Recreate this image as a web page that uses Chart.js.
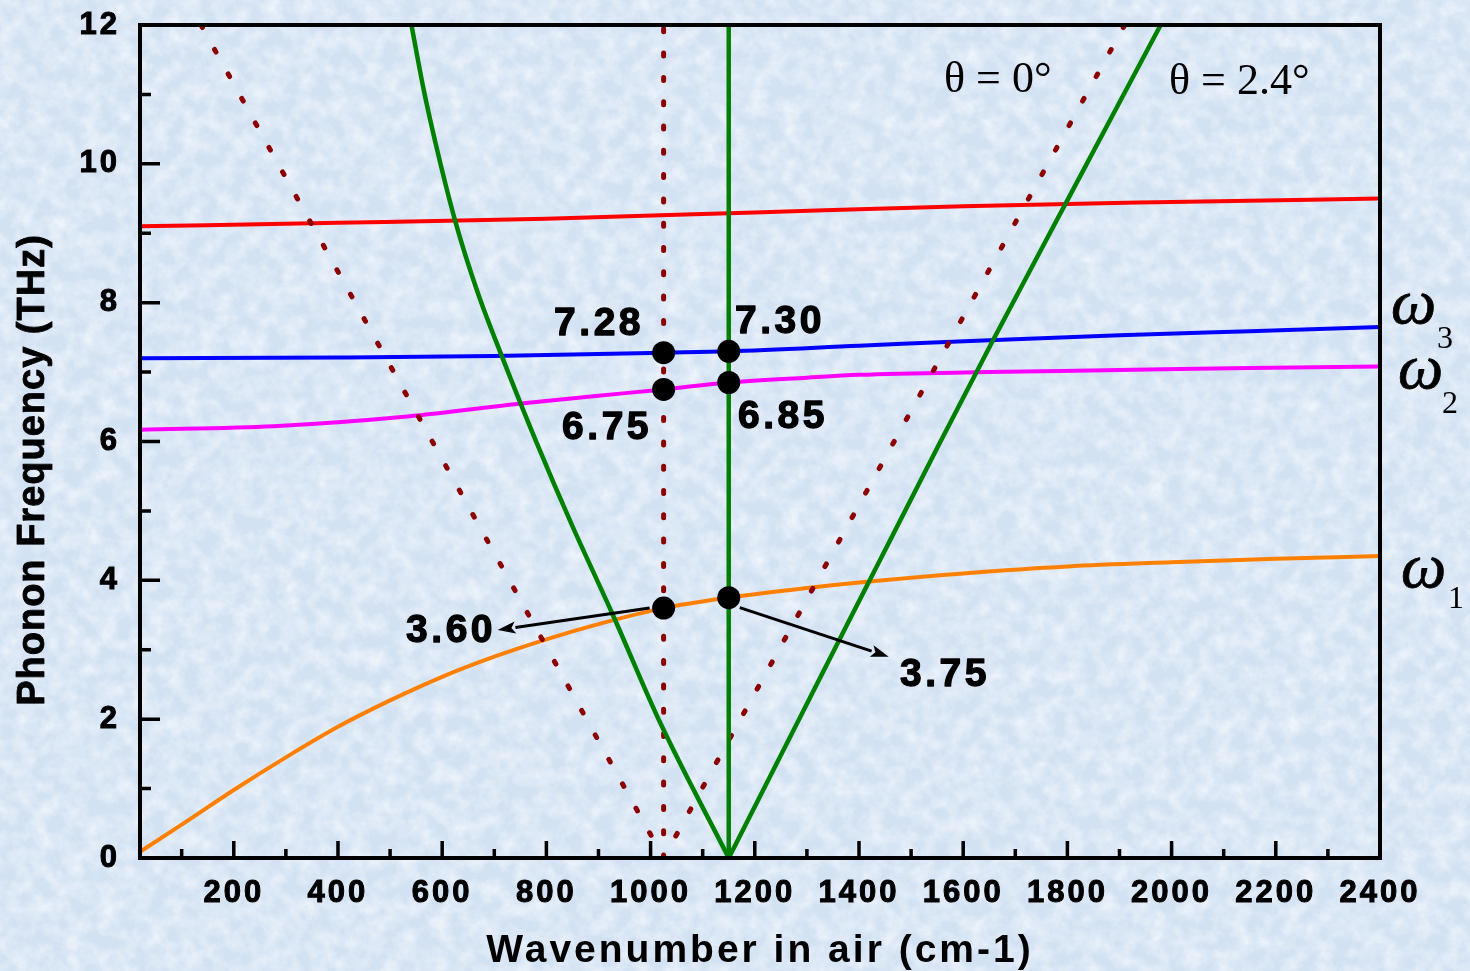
<!DOCTYPE html>
<html>
<head>
<meta charset="utf-8">
<title>Phonon frequency vs wavenumber in air</title>
<script src="https://cdn.jsdelivr.net/npm/chart.js@4.4.1/dist/chart.umd.min.js"></script>
<style>
  html, body { margin: 0; padding: 0; }
  body { width: 1470px; height: 971px; overflow: hidden; background-color: #d3e2f3; }
  #wrap { position: relative; width: 1470px; height: 971px; }
</style>
</head>
<body>
<div id="wrap"><canvas id="chart"></canvas></div>
<script>
// ---- data (wavenumber in air, cm-1 / phonon frequency, THz) ----
const omega1X = [20, 100, 200, 300, 400, 500, 600, 700, 800, 900, 1025, 1150, 1300, 1415, 1600, 1800, 2000, 2200, 2400];
const omega1Y = [0.09, 0.48, 0.98, 1.45, 1.89, 2.27, 2.61, 2.90, 3.15, 3.37, 3.60, 3.75, 3.89, 3.98, 4.10, 4.20, 4.26, 4.31, 4.35];

const omega2X = [20, 276, 533, 756, 900, 1025, 1150, 1300, 1400, 1650, 1900, 2150, 2400];
const omega2Y = [6.17, 6.22, 6.36, 6.55, 6.66, 6.75, 6.85, 6.92, 6.96, 7.00, 7.03, 7.06, 7.08];

const omega3X = [20, 400, 700, 1025, 1150, 1400, 1650, 1900, 2150, 2400];
const omega3Y = [7.20, 7.21, 7.23, 7.28, 7.30, 7.38, 7.46, 7.53, 7.59, 7.65];

const upperX = [20, 400, 800, 1200, 1600, 2000, 2400];
const upperY = [9.10, 9.15, 9.21, 9.30, 9.39, 9.45, 9.50];

// theta = 2.4 deg phase-matching lines
const tiltLeftX = [541, 565, 592, 626, 668, 715, 782, 850, 926, 1019, 1150];
const tiltLeftY = [12, 11.05, 10.15, 9.15, 8.15, 7.22, 5.97, 4.78, 3.53, 1.94, 0];
const tiltRightX = [1150, 1358, 1553, 1656, 1796, 1979];
const tiltRightY = [0, 3.08, 5.95, 7.44, 9.42, 12];
const tiltAxisX = [1150, 1150];
const tiltAxisY = [0, 12];

// theta = 0 deg phase-matching lines
const flatLeftX = [137, 1025];
const flatLeftY = [12, 0];
const flatAxisX = [1025, 1025];
const flatAxisY = [0, 12];
const flatRightX = [1910, 1025];
const flatRightY = [12, 0];

// crossing points
const markX = [1025, 1150, 1025, 1150, 1025, 1150];
const markY = [7.28, 7.30, 6.75, 6.85, 3.60, 3.75];

// axis ticks
const xTickValues = [200, 400, 600, 800, 1000, 1200, 1400, 1600, 1800, 2000, 2200, 2400];
const xMinorValues = [100, 300, 500, 700, 900, 1100, 1300, 1500, 1700, 1900, 2100, 2300];
const yTickValues = [0, 2, 4, 6, 8, 10, 12];
const yMinorValues = [1, 3, 5, 7, 9, 11];

// ---- mottled paper background ----
(function () {
  const svg = "<svg xmlns='http://www.w3.org/2000/svg' width='1470' height='971'>" +
    "<filter id='t' x='0' y='0' width='100%' height='100%'>" +
    "<feTurbulence type='fractalNoise' baseFrequency='0.06' numOctaves='4' seed='7'/>" +
    "<feColorMatrix type='matrix' values='0 0 0 0 1  0 0 0 0 1  0 0 0 0 1  1.1 0 0 0 -0.38'/>" +
    "</filter><rect width='1470' height='971' filter='url(#t)'/></svg>";
  document.body.style.backgroundImage = 'url("data:image/svg+xml,' + encodeURIComponent(svg) + '")';
})();

const pts = (xs, ys) => xs.map((x, i) => ({ x: x, y: ys[i] }));

function curve(label, xs, ys, color, width, order, smooth) {
  return {
    label: label, data: pts(xs, ys), showLine: true, fill: false,
    borderColor: color, borderWidth: width, pointRadius: 0, pointHoverRadius: 0,
    cubicInterpolationMode: smooth ? 'monotone' : 'default', tension: 0, order: order
  };
}
function dotted(label, xs, ys, gap) {
  return {
    label: label, data: pts(xs, ys), showLine: true, fill: false,
    borderColor: '#8b0000', borderWidth: 5, borderCapStyle: 'round',
    borderDash: [3, gap], pointRadius: 0, pointHoverRadius: 0, tension: 0, order: 2
  };
}

const SANS = '"Liberation Sans", Arial, Helvetica, sans-serif';
const SERIF = '"Liberation Serif", "Times New Roman", "DejaVu Serif", serif';

// label placement around the crossing points (pixel offsets, cap-centre)
const valueLabelLayout = [
  { dx: -19.6, dy: -31.6, align: 'right' },
  { dx: 6.3, dy: -32.2, align: 'left' },
  { dx: -11.6, dy: 35.1, align: 'right' },
  { dx: 9.3, dy: 31.5, align: 'left' },
  { dx: -167.6, dy: 19.7, align: 'right' },
  { dx: 171.3, dy: 74.3, align: 'left' }
];
const arrowLayout = [
  { i: 4, from: [-14, 0], to: [-166, 22] },
  { i: 5, from: [11, 10], to: [160, 59] }
];
const branchLabels = [
  { sym: '\u03C9', sub: '3', dx: 11, y: 323, sdx: 57, sy: 348 },
  { sym: '\u03C9', sub: '2', dx: 18, y: 388, sdx: 62, sy: 413 },
  { sym: '\u03C9', sub: '1', dx: 21, y: 587, sdx: 68, sy: 608 }
];
const angleLabels = [
  { text: '\u03B8 = 0\u00B0', x: 944, y: 92 },
  { text: '\u03B8 = 2.4\u00B0', x: 1169, y: 94 }
];

const spacingPlugin = {
  id: 'spacing',
  beforeDraw(chart) { chart.ctx.letterSpacing = '3px'; }
};

const framePlugin = {
  id: 'frame',
  afterDatasetsDraw(chart) {
    const ctx = chart.ctx, a = chart.chartArea;
    const xs = chart.scales.x, ys = chart.scales.y;
    ctx.save();
    ctx.strokeStyle = '#000';
    ctx.lineCap = 'butt';
    ctx.lineWidth = 3.5;
    ctx.beginPath();
    xTickValues.forEach(v => {
      if (v >= xs.max) return;
      const p = xs.getPixelForValue(v);
      ctx.moveTo(p, a.bottom); ctx.lineTo(p, a.bottom - 17);
    });
    xMinorValues.forEach(v => {
      const p = xs.getPixelForValue(v);
      ctx.moveTo(p, a.bottom); ctx.lineTo(p, a.bottom - 9);
    });
    yTickValues.forEach(v => {
      if (v <= ys.min || v >= ys.max) return;
      const p = ys.getPixelForValue(v);
      ctx.moveTo(a.left, p); ctx.lineTo(a.left + 20, p);
    });
    yMinorValues.forEach(v => {
      const p = ys.getPixelForValue(v);
      ctx.moveTo(a.left, p); ctx.lineTo(a.left + 11, p);
    });
    ctx.stroke();
    ctx.lineWidth = 4;
    ctx.strokeRect(a.left, a.top, a.right - a.left, a.bottom - a.top);
    ctx.restore();
  }
};

function arrow(ctx, x1, y1, x2, y2) {
  const ang = Math.atan2(y2 - y1, x2 - x1);
  const len = 18, half = 6;
  const bx = x2 - len * Math.cos(ang), by = y2 - len * Math.sin(ang);
  ctx.beginPath();
  ctx.moveTo(x1, y1); ctx.lineTo(bx, by);
  ctx.stroke();
  ctx.beginPath();
  ctx.moveTo(x2, y2);
  ctx.lineTo(bx + half * Math.sin(ang), by - half * Math.cos(ang));
  ctx.lineTo(bx + 4 * Math.cos(ang), by + 4 * Math.sin(ang));
  ctx.lineTo(bx - half * Math.sin(ang), by + half * Math.cos(ang));
  ctx.closePath();
  ctx.fill();
}

function boldText(ctx, text, x, y, w) {
  ctx.fillText(text, x, y);
  ctx.lineWidth = w;
  ctx.strokeText(text, x, y);
}

const annotationPlugin = {
  id: 'annotations',
  afterDraw(chart) {
    const ctx = chart.ctx, a = chart.chartArea;
    const xs = chart.scales.x, ys = chart.scales.y;
    ctx.save();
    ctx.fillStyle = '#000';
    ctx.strokeStyle = '#000';
    ctx.lineJoin = 'round';

    // arrows from the omega1 crossings
    ctx.lineWidth = 3;
    arrowLayout.forEach(o => {
      const px = xs.getPixelForValue(markX[o.i]), py = ys.getPixelForValue(markY[o.i]);
      arrow(ctx, px + o.from[0], py + o.from[1], px + o.to[0], py + o.to[1]);
    });

    // frequency values at the crossings
    ctx.font = 'bold 39px ' + SANS;
    ctx.letterSpacing = '3.5px';
    ctx.textBaseline = 'alphabetic';
    markX.forEach((xv, i) => {
      const o = valueLabelLayout[i];
      const px = xs.getPixelForValue(xv), py = ys.getPixelForValue(markY[i]);
      ctx.textAlign = o.align;
      boldText(ctx, markY[i].toFixed(2), px + o.dx, py + o.dy + 14, 1.3);
    });

    // branch names on the right
    ctx.letterSpacing = '0px';
    ctx.textAlign = 'left';
    branchLabels.forEach(b => {
      ctx.font = 'italic 64px ' + SERIF;
      boldText(ctx, b.sym, a.right + b.dx, b.y, 0.8);
      ctx.font = '32px ' + SERIF;
      ctx.fillText(b.sub, a.right + b.sdx, b.sy);
    });

    // incidence angles
    ctx.font = '44px ' + SERIF;
    angleLabels.forEach(t => ctx.fillText(t.text, t.x, t.y));

    // vertical axis title
    ctx.font = 'bold 38px ' + SANS;
    ctx.letterSpacing = '1px';
    ctx.textAlign = 'center';
    ctx.translate(44, 470);
    ctx.rotate(-Math.PI / 2);
    boldText(ctx, 'Phonon Frequency (THz)', 0, 0, 0.8);
    ctx.restore();
  }
};

const plainTick = v => String(v);

new Chart(document.getElementById('chart'), {
  type: 'scatter',
  data: {
    datasets: [
      {
        label: 'crossings', data: pts(markX, markY), showLine: false,
        pointRadius: 11.5, pointHoverRadius: 11.5, backgroundColor: '#000', borderWidth: 0, order: 0
      },
      curve('θ = 2.4° left', tiltLeftX, tiltLeftY, '#008000', 4.5, 1, true),
      curve('θ = 2.4° right', tiltRightX, tiltRightY, '#008000', 4.5, 1, true),
      curve('θ = 2.4° axis', tiltAxisX, tiltAxisY, '#008000', 4.5, 1, false),
      dotted('θ = 0° left', flatLeftX, flatLeftY, 25),
      dotted('θ = 0° axis', flatAxisX, flatAxisY, 21.3),
      dotted('θ = 0° right', flatRightX, flatRightY, 25),
      curve('upper', upperX, upperY, '#ff0000', 4, 3, true),
      curve('ω3', omega3X, omega3Y, '#0000ff', 4, 3, true),
      curve('ω2', omega2X, omega2Y, '#ff00ff', 4, 3, true),
      curve('ω1', omega1X, omega1Y, '#ff8000', 4, 3, true)
    ]
  },
  options: {
    responsive: true,
    maintainAspectRatio: false,
    animation: false,
    events: [],
    layout: { padding: { top: 25, right: 90, left: 0, bottom: 0 } },
    plugins: { legend: { display: false }, tooltip: { enabled: false } },
    scales: {
      x: {
        type: 'linear', min: 20, max: 2400,
        grid: { display: false, drawTicks: false },
        border: { display: false },
        afterBuildTicks: s => { s.ticks = xTickValues.map(v => ({ value: v })); },
        afterFit: s => { s.height = 113; s.paddingLeft = 0; s.paddingRight = 0; },
        ticks: {
          color: '#000', padding: 20, maxRotation: 0, minRotation: 0, autoSkip: false,
          callback: plainTick, textStrokeColor: '#000', textStrokeWidth: 1,
          font: { family: SANS, size: 31, weight: 'bold', lineHeight: 1 }
        },
        title: {
          display: true, text: 'Wavenumber in air (cm-1)', color: '#000',
          padding: { top: 0, bottom: 0 },
          font: { family: SANS, size: 39, weight: 'bold', lineHeight: 1 }
        }
      },
      y: {
        type: 'linear', min: 0, max: 12,
        grid: { display: false, drawTicks: false },
        border: { display: false },
        afterBuildTicks: s => { s.ticks = yTickValues.map(v => ({ value: v })); },
        afterFit: s => { s.width = 140; s.paddingTop = 0; s.paddingBottom = 0; },
        ticks: {
          color: '#000', padding: 20, autoSkip: false,
          callback: plainTick, textStrokeColor: '#000', textStrokeWidth: 1,
          font: { family: SANS, size: 31, weight: 'bold', lineHeight: 1 }
        }
      }
    }
  },
  plugins: [spacingPlugin, framePlugin, annotationPlugin]
});
</script>
</body>
</html>
